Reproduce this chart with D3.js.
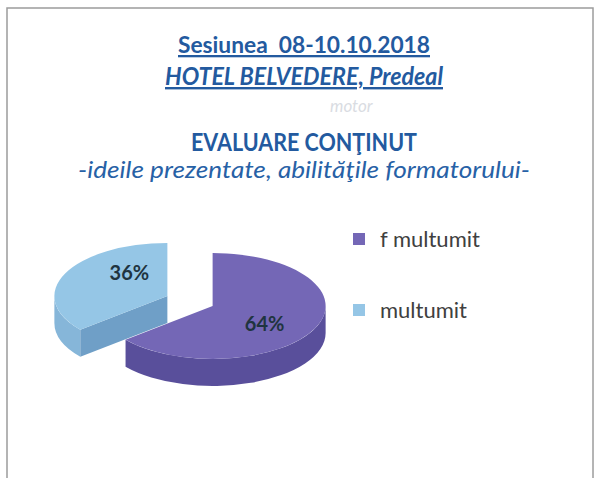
<!DOCTYPE html>
<html>
<head>
<meta charset="utf-8">
<script src="https://cdn.jsdelivr.net/npm/d3@7"></script>
<style>
  body { margin: 0; background: #fff; }
  text { font-family: Lato, "Open Sans", sans-serif; white-space: pre; }
</style>
</head>
<body>
<div id="chart"></div>
<script>
var categories = ["f multumit", "multumit"];
var values = [64, 36];
var valueLabels = ["64%", "36%"];

var width = 595, height = 478;

var svg = d3.select("#chart").append("svg")
    .attr("width", width)
    .attr("height", height);

// scanned frame
svg.append("rect")
    .attr("x", 7).attr("y", 8)
    .attr("width", 586).attr("height", 490)
    .attr("fill", "none")
    .attr("stroke", "#9c9c9c")
    .attr("stroke-width", 1.5);

// titles
var blue = "#235a9f";
function title(txt, y, size, len, opts) {
  var t = svg.append("text")
      .attr("x", 304).attr("y", y)
      .attr("text-anchor", "middle")
      .attr("font-size", size)
      .attr("fill", opts.color || blue)
      .attr("font-weight", opts.bold ? "bold" : "normal")
      .attr("font-style", opts.italic ? "italic" : "normal")
      .attr("textLength", len)
      .attr("lengthAdjust", "spacingAndGlyphs")
      .text(txt);
  if (opts.underline) t.style("text-decoration", "underline");
  return t;
}
title("Sesiunea  08-10.10.2018", 53, 23, 252, {bold: true, underline: true});
title("HOTEL BELVEDERE, Predeal", 85, 24, 278, {bold: true, italic: true, underline: true});
svg.append("text")
    .attr("x", 330).attr("y", 112)
    .attr("font-size", 17)
    .attr("font-style", "italic")
    .attr("fill", "#d9dce2")
    .text("motor");
title("EVALUARE CONŢINUT", 151, 25, 226, {bold: true});
title("-ideile prezentate, abilităţile formatorului-", 178, 23, 452, {italic: true, color: "#2761a6"});

// 3d pie
var cx = 190, cy = 301, rx = 113, ry = 53, depth = 27, explode = 25;

var topColor = d3.scaleOrdinal(categories, ["#7467b6", "#95c6e6"]);
var sideColor = d3.scaleOrdinal(categories, ["#594f9b", "#86b6d9"]);
var cutColor = d3.scaleOrdinal(categories, ["#615aa5", "#6f9fc7"]);

var pie = d3.pie().sort(null).value(function(d) { return d.value; });
var slices = pie(categories.map(function(c, i) {
  return {name: c, value: values[i], label: valueLabels[i]};
}));

function pt(c, a, f) {
  f = f === undefined ? 1 : f;
  return [c[0] + rx * f * Math.sin(a), c[1] - ry * f * Math.cos(a)];
}
function down(p) { return [p[0], p[1] + depth]; }

slices.forEach(function(s) {
  var mid = (s.startAngle + s.endAngle) / 2;
  s.c = [cx + explode * Math.sin(mid), cy - explode * Math.cos(mid) * ry / rx];
  s.mid = mid;
});
slices.sort(function(a, b) { return a.c[1] - b.c[1]; });

var g = svg.append("g");

slices.forEach(function(s) {
  var a0 = s.startAngle, a1 = s.endAngle, c = s.c;
  var name = s.data.name;

  // visible part of the outer wall
  var st = Math.max(a0, Math.PI / 2), en = Math.min(a1, 3 * Math.PI / 2);
  if (st < en) {
    var p0 = pt(c, st), p1 = pt(c, en);
    g.append("path")
        .attr("d", "M" + p0 + "A" + rx + "," + ry + " 0 0 1 " + p1 +
             "L" + down(p1) + "A" + rx + "," + ry + " 0 0 0 " + down(p0) + "Z")
        .attr("fill", sideColor(name));
  }

  // cut faces facing the viewer
  [[a0, Math.sin(a0) < -1e-6], [a1, Math.sin(a1) > 1e-6]].forEach(function(f) {
    if (!f[1]) return;
    var p = pt(c, f[0]);
    g.append("path")
        .attr("d", "M" + c + "L" + p + "L" + down(p) + "L" + down(c) + "Z")
        .attr("fill", cutColor(name));
  });

  // top face
  var q0 = pt(c, a0), q1 = pt(c, a1);
  var large = (a1 - a0) > Math.PI ? 1 : 0;
  g.append("path")
      .attr("d", "M" + c + "L" + q0 + "A" + rx + "," + ry + " 0 " + large + " 1 " + q1 + "Z")
      .attr("fill", topColor(name));
});

// value labels
var labelNudge = {"f multumit": [6, 8], "multumit": [8, -13]};
g.selectAll(".lbl")
    .data(slices)
  .enter().append("text")
    .attr("class", "lbl")
    .attr("transform", function(s) {
      var p = pt(s.c, s.mid, 0.45), n = labelNudge[s.data.name];
      return "translate(" + (p[0] + n[0]) + "," + (p[1] + n[1]) + ")";
    })
    .attr("text-anchor", "middle")
    .attr("dy", "0.35em")
    .attr("font-size", 20)
    .attr("font-weight", "bold")
    .attr("fill", "#1f3440")
    .text(function(s) { return s.data.label; });

// legend
var ly = d3.scalePoint().domain(categories).range([239, 310]);
var legend = svg.append("g").selectAll("g")
    .data(categories)
  .enter().append("g")
    .attr("transform", function(d) { return "translate(353," + ly(d) + ")"; });
legend.append("rect")
    .attr("y", -6).attr("width", 12).attr("height", 12)
    .attr("fill", function(d) { return topColor(d); });
legend.append("text")
    .attr("x", 27).attr("dy", "0.35em")
    .attr("font-size", 22)
    .attr("fill", "#404040")
    .text(function(d) { return d; });
</script>
</body>
</html>
